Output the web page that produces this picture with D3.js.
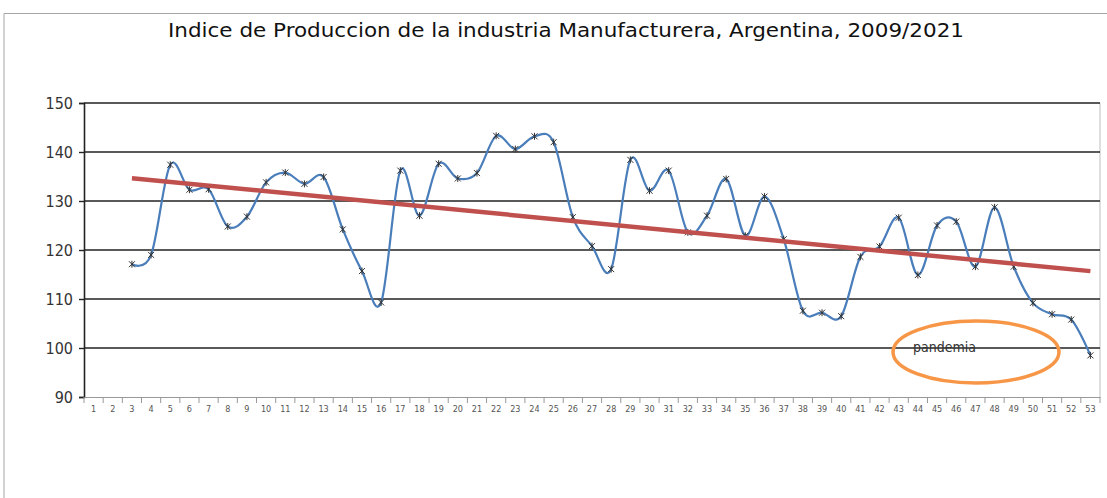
<!DOCTYPE html>
<html>
<head>
<meta charset="utf-8">
<script src="https://cdn.jsdelivr.net/npm/d3@7"></script>
<style>
  body { margin: 0; background: #fff; }
  svg { display: block; }
</style>
</head>
<body>
<div id="chart"></div>
<script>
var width = 1107;
var height = 498;

// datos
var titulo = "Indice de Produccion de la  industria Manufacturera, Argentina, 2009/2021";
var categorias = [1,2,3,4,5,6,7,8,9,10,11,12,13,14,15,16,17,18,19,20,21,22,23,24,25,26,27,
                  28,29,30,31,32,33,34,35,36,37,38,39,40,41,42,43,44,45,46,47,48,49,50,51,52,53];
var indice = [null,null,117.1,119.0,137.4,132.3,132.4,124.8,126.8,133.8,135.8,133.5,134.9,124.2,
              115.7,109.3,136.2,127.0,137.6,134.6,135.7,143.3,140.6,143.2,142.0,126.7,120.8,116.1,
              138.4,132.1,136.2,123.6,127.0,134.5,122.9,130.9,122.2,107.6,107.2,106.5,118.6,120.7,
              126.6,114.9,125.0,125.8,116.6,128.7,116.6,109.2,106.9,105.8,98.5];
var yTicks = [90,100,110,120,130,140,150];
var nota = "pandemia";

var margin = {top: 103, right: 7, bottom: 101, left: 84};

var svg = d3.select("#chart")
  .append("svg")
  .attr("width", width)
  .attr("height", height);

// marco del grafico
svg.append("path")
  .attr("d", "M4," + height + " V13.5 H" + width)
  .attr("fill", "none")
  .attr("stroke", "#a6a6a6")
  .attr("stroke-width", 1);

svg.append("text")
  .attr("x", 566)
  .attr("y", 37)
  .attr("text-anchor", "middle")
  .attr("textLength", 796)
  .attr("lengthAdjust", "spacingAndGlyphs")
  .style("font-family", "'Liberation Sans Narrow', 'DejaVu Sans Condensed', 'Liberation Sans', sans-serif")
  .style("font-size", "19px")
  .style("fill", "#111")
  .text(titulo);

var x = d3.scaleBand()
  .domain(categorias)
  .range([margin.left, width - margin.right]);

var y = d3.scaleLinear()
  .domain([90, 150])
  .range([height - margin.bottom, margin.top]);

// borde derecho del area
svg.append("line")
  .attr("x1", width - margin.right).attr("x2", width - margin.right)
  .attr("y1", margin.top).attr("y2", y(90))
  .attr("stroke", "#bfbfbf");

// lineas de grilla
svg.append("g")
  .selectAll("line")
  .data(yTicks.filter(function(d){ return d > 90; }))
  .enter()
  .append("line")
  .attr("x1", margin.left)
  .attr("x2", width - margin.right)
  .attr("y1", function(d){ return y(d); })
  .attr("y2", function(d){ return y(d); })
  .attr("stroke", "#222")
  .attr("stroke-width", 1.6);

// eje y
var yAxis = d3.axisLeft(y).tickValues(yTicks).tickSize(5).tickPadding(6);
var gy = svg.append("g")
  .attr("transform", "translate(" + margin.left + ",0)")
  .call(yAxis);
gy.select(".domain").attr("stroke", "#222").attr("stroke-width", 1.6);
gy.selectAll(".tick line").attr("stroke", "#222").attr("stroke-width", 1.4);
gy.selectAll("text")
  .style("font-family", "'Liberation Sans Narrow', 'DejaVu Sans Condensed', sans-serif")
  .style("font-size", "16px")
  .style("fill", "#333");

// eje x
var xAxis = d3.axisBottom(x).tickSize(0).tickPadding(9);
var gx = svg.append("g")
  .attr("transform", "translate(0," + y(90) + ")")
  .call(xAxis);
gx.select(".domain").attr("stroke", "#999").attr("stroke-width", 1.2);
gx.selectAll("text")
  .style("font-family", "'Liberation Sans Narrow', 'DejaVu Sans Condensed', sans-serif")
  .style("font-size", "9px")
  .style("fill", "#555");
// marcas entre categorias
gx.append("g")
  .selectAll("line")
  .data(categorias.concat([54]))
  .enter()
  .append("line")
  .attr("x1", function(d){ return d === 54 ? x.range()[1] : x(d); })
  .attr("x2", function(d){ return d === 54 ? x.range()[1] : x(d); })
  .attr("y1", 0)
  .attr("y2", 6)
  .attr("stroke", "#999");

var puntos = categorias.map(function(c, i){ return {cat: c, v: indice[i]}; })
  .filter(function(d){ return d.v !== null; });

var cx = function(d){ return x(d.cat) + x.bandwidth() / 2; };

// linea suavizada
var linea = d3.line()
  .x(cx)
  .y(function(d){ return y(d.v); })
  .curve(d3.curveCardinal.tension(0));

svg.append("path")
  .datum(puntos)
  .attr("d", linea)
  .attr("fill", "none")
  .attr("stroke", "#4a7ebb")
  .attr("stroke-width", 2.2);

// marcadores
var marcas = svg.append("g")
  .selectAll("g")
  .data(puntos)
  .enter()
  .append("g")
  .attr("transform", function(d){ return "translate(" + cx(d) + "," + y(d.v) + ")"; });
marcas.append("path")
  .attr("d", "M-3,-3L3,3M-3,3L3,-3M0,-3.5V3.5")
  .attr("stroke", "#333")
  .attr("stroke-width", 1);

// tendencia lineal (minimos cuadrados)
var n = puntos.length;
var mx = d3.mean(puntos, function(d){ return d.cat; });
var my = d3.mean(puntos, function(d){ return d.v; });
var pend = d3.sum(puntos, function(d){ return (d.cat - mx) * (d.v - my); }) /
           d3.sum(puntos, function(d){ return (d.cat - mx) * (d.cat - mx); });
var tend = [puntos[0], puntos[n - 1]].map(function(d){
  return {cat: d.cat, v: my + pend * (d.cat - mx)};
});

svg.append("path")
  .datum(tend)
  .attr("d", d3.line().x(cx).y(function(d){ return y(d.v); }))
  .attr("stroke", "#c0504d")
  .attr("stroke-width", 4.5)
  .attr("fill", "none");

// anotacion
svg.append("ellipse")
  .attr("cx", 976)
  .attr("cy", 352)
  .attr("rx", 83)
  .attr("ry", 31)
  .attr("fill", "none")
  .attr("stroke", "#f79646")
  .attr("stroke-width", 3.5);

svg.append("text")
  .attr("x", 913)
  .attr("y", 352)
  .style("font-family", "'Liberation Sans Narrow', 'DejaVu Sans Condensed', sans-serif")
  .style("font-size", "14px")
  .style("fill", "#333")
  .text(nota);
</script>
</body>
</html>
